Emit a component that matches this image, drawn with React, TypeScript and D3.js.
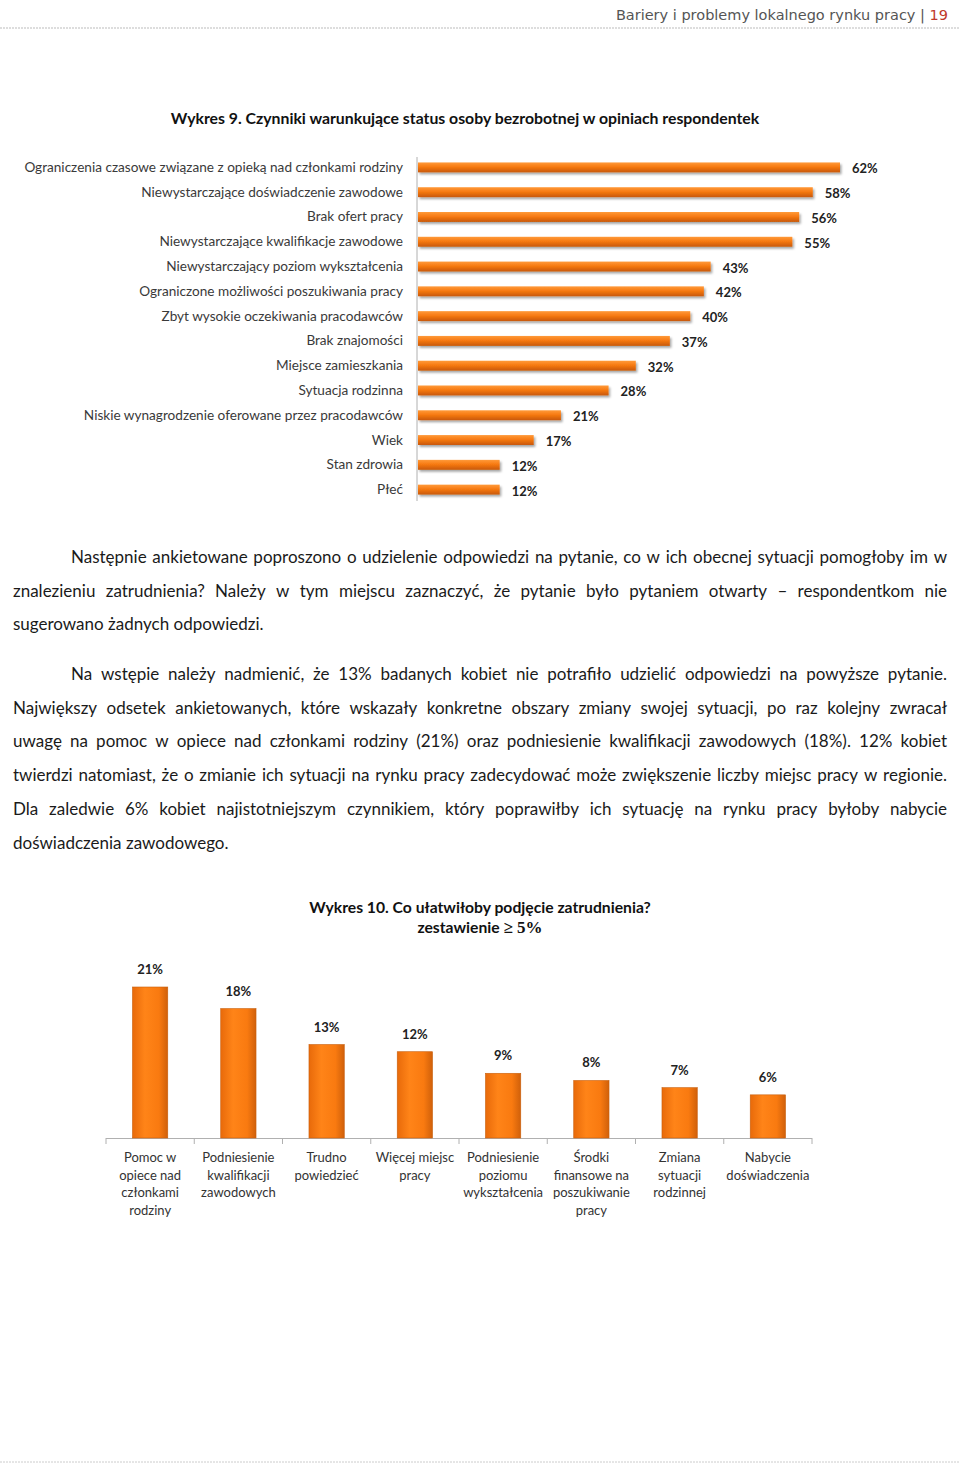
import React, { useEffect, useRef } from "react";
import * as d3 from "d3";

const W = 960;
const H = 1464;

const HEADER_TEXT = "Bariery i problemy lokalnego rynku pracy";
const HEADER_PAGE = "19";

const TITLE1 = "Wykres 9. Czynniki warunkujące status osoby bezrobotnej w opiniach respondentek";
const factors = [
  "Ograniczenia czasowe związane z opieką nad członkami rodziny",
  "Niewystarczające doświadczenie zawodowe",
  "Brak ofert pracy",
  "Niewystarczające kwalifikacje zawodowe",
  "Niewystarczający poziom wykształcenia",
  "Ograniczone możliwości poszukiwania pracy",
  "Zbyt wysokie oczekiwania pracodawców",
  "Brak znajomości",
  "Miejsce zamieszkania",
  "Sytuacja rodzinna",
  "Niskie wynagrodzenie oferowane przez pracodawców",
  "Wiek",
  "Stan zdrowia",
  "Płeć",
];
const factorValues = [62, 58, 56, 55, 43, 42, 40, 37, 32, 28, 21, 17, 12, 12];

const para1 = [
  "Następnie ankietowane poproszono o udzielenie odpowiedzi na pytanie, co w ich obecnej sytuacji pomogłoby im w",
  "znalezieniu zatrudnienia? Należy w tym miejscu zaznaczyć, że pytanie było pytaniem otwarty – respondentkom nie",
  "sugerowano żadnych odpowiedzi.",
];
const para2 = [
  "Na wstępie należy nadmienić, że 13% badanych kobiet nie potrafiło udzielić odpowiedzi na powyższe pytanie.",
  "Największy odsetek ankietowanych, które wskazały konkretne obszary zmiany swojej sytuacji, po raz kolejny zwracał",
  "uwagę na pomoc w opiece nad członkami rodziny (21%) oraz podniesienie kwalifikacji zawodowych (18%). 12% kobiet",
  "twierdzi natomiast, że o zmianie ich sytuacji na rynku pracy zadecydować może zwiększenie liczby miejsc pracy w regionie.",
  "Dla zaledwie 6% kobiet najistotniejszym czynnikiem, który poprawiłby ich sytuację na rynku pracy byłoby nabycie",
  "doświadczenia zawodowego.",
];

const TITLE2_A = "Wykres 10. Co ułatwiłoby podjęcie zatrudnienia?";
const TITLE2_B = "zestawienie ";
const TITLE2_C = "≥ 5%";
const helps = [
  ["Pomoc w", "opiece nad", "członkami", "rodziny"],
  ["Podniesienie", "kwalifikacji", "zawodowych"],
  ["Trudno", "powiedzieć"],
  ["Więcej miejsc", "pracy"],
  ["Podniesienie", "poziomu", "wykształcenia"],
  ["Środki", "finansowe na", "poszukiwanie", "pracy"],
  ["Zmiana", "sytuacji", "rodzinnej"],
  ["Nabycie", "doświadczenia"],
];
const helpValues = [21, 18, 13, 12, 9, 8, 7, 6];

const BODY_FONT = "Lato, 'Open Sans', sans-serif";

export default function App() {
  const ref = useRef<SVGSVGElement | null>(null);

  useEffect(() => {
    const svg = d3.select(ref.current);
    svg.selectAll("*").remove();

    const defs = svg.append("defs");
    const gH = defs.append("linearGradient").attr("id", "gradH").attr("x1", 0).attr("y1", 0).attr("x2", 0).attr("y2", 1);
    gH.append("stop").attr("offset", "0%").attr("stop-color", "#ff9a3a");
    gH.append("stop").attr("offset", "45%").attr("stop-color", "#f77a12");
    gH.append("stop").attr("offset", "100%").attr("stop-color", "#c85806");
    const gV = defs.append("linearGradient").attr("id", "gradV").attr("x1", 0).attr("y1", 0).attr("x2", 1).attr("y2", 0);
    gV.append("stop").attr("offset", "0%").attr("stop-color", "#e86a0a");
    gV.append("stop").attr("offset", "35%").attr("stop-color", "#ff8418");
    gV.append("stop").attr("offset", "75%").attr("stop-color", "#f97a10");
    gV.append("stop").attr("offset", "100%").attr("stop-color", "#d0600a");
    const f = defs.append("filter").attr("id", "shadow").attr("x", "-10%").attr("y", "-50%").attr("width", "130%").attr("height", "250%");
    f.append("feDropShadow").attr("dx", 1.5).attr("dy", 2).attr("stdDeviation", 1.2).attr("flood-color", "#000").attr("flood-opacity", 0.35);

    svg.append("rect").attr("width", W).attr("height", H).attr("fill", "#fff");

    // Header
    const hdr = svg.append("text").attr("x", 948).attr("y", 20).attr("text-anchor", "end")
      .attr("font-family", "'DejaVu Sans', sans-serif").attr("font-size", 14.5).attr("fill", "#555");
    hdr.append("tspan").text(HEADER_TEXT + "  |  ");
    hdr.append("tspan").attr("fill", "#c0392b").text(HEADER_PAGE);
    svg.append("line").attr("x1", 0).attr("x2", W).attr("y1", 28).attr("y2", 28)
      .attr("stroke", "#bbb").attr("stroke-dasharray", "2,1").attr("stroke-width", 1);
    svg.append("line").attr("x1", 0).attr("x2", W).attr("y1", 1462).attr("y2", 1462)
      .attr("stroke", "#ccc").attr("stroke-dasharray", "2,1").attr("stroke-width", 1);

    // Title 1
    svg.append("text").attr("x", 465).attr("y", 124).attr("text-anchor", "middle")
      .attr("font-family", BODY_FONT).attr("font-weight", "bold").attr("font-size", 15.8).attr("fill", "#111")
      .text(TITLE1);

    // Chart 1
    const x1 = d3.scaleLinear().domain([0, 62]).range([418, 840]);
    const y1 = d3.scaleBand<string>().domain(factors).range([155, 502]).paddingInner(0.6).paddingOuter(0.3);
    const g1 = svg.append("g");
    g1.append("line").attr("x1", 417).attr("x2", 417).attr("y1", 157).attr("y2", 501).attr("stroke", "#b0b0b0");
    g1.selectAll("rect.bar").data(factors).enter().append("rect").attr("class", "bar")
      .attr("x", x1(0)).attr("y", (d) => y1(d)!)
      .attr("width", (d, i) => x1(factorValues[i]) - x1(0)).attr("height", y1.bandwidth())
      .attr("fill", "url(#gradH)").attr("filter", "url(#shadow)");
    g1.selectAll("text.cat").data(factors).enter().append("text").attr("class", "cat")
      .attr("x", 403).attr("y", (d) => y1(d)! + y1.bandwidth() / 2 + 4.5).attr("text-anchor", "end")
      .attr("font-family", BODY_FONT).attr("font-size", 13.6).attr("fill", "#3a3a3a").text((d) => d);
    g1.selectAll("text.val").data(factors).enter().append("text").attr("class", "val")
      .attr("x", (d, i) => x1(factorValues[i]) + 12).attr("y", (d) => y1(d)! + y1.bandwidth() / 2 + 6)
      .attr("font-family", BODY_FONT).attr("font-weight", "bold").attr("font-size", 13).attr("fill", "#222")
      .text((d, i) => factorValues[i] + "%");

    // Paragraphs with justification
    const drawPara = (lines: string[], y0: number) => {
      lines.forEach((line, li) => {
        const y = y0 + li * 33.7;
        const left = li === 0 ? 71 : 13;
        const right = 947;
        const last = li === lines.length - 1;
        const words = line.split(" ");
        const g = svg.append("g");
        const nodes = words.map((w) =>
          g.append("text").attr("y", y).attr("font-family", BODY_FONT).attr("font-size", 17).attr("fill", "#1a1a1a").text(w)
        );
        const widths = nodes.map((n) => (n.node() as SVGTextElement).getComputedTextLength());
        const total = d3.sum(widths);
        const spaceNat = 17 * 0.26;
        let gap = spaceNat;
        if (!last && words.length > 1) gap = (right - left - total) / (words.length - 1);
        let cx = left;
        nodes.forEach((n, i) => {
          n.attr("x", cx);
          cx += widths[i] + gap;
        });
      });
    };
    drawPara(para1, 563);
    drawPara(para2, 680);

    // Title 2
    svg.append("text").attr("x", 480).attr("y", 913).attr("text-anchor", "middle")
      .attr("font-family", BODY_FONT).attr("font-weight", "bold").attr("font-size", 15.7).attr("fill", "#111")
      .text(TITLE2_A);
    const t2 = svg.append("text").attr("x", 480).attr("y", 933).attr("text-anchor", "middle")
      .attr("font-family", BODY_FONT).attr("font-weight", "bold").attr("font-size", 15.7).attr("fill", "#111");
    t2.append("tspan").text(TITLE2_B);
    t2.append("tspan").attr("font-family", "'Liberation Serif', serif").attr("font-size", 17).text(TITLE2_C);

    // Chart 2
    const idx = helps.map((_, i) => String(i));
    const x2 = d3.scaleBand<string>().domain(idx).range([106, 812]).paddingInner(0.6).paddingOuter(0.3);
    const y2 = d3.scaleLinear().domain([0, 21]).range([1138, 987]);
    const g2 = svg.append("g");
    g2.append("line").attr("x1", 106).attr("x2", 812).attr("y1", 1138.5).attr("y2", 1138.5).attr("stroke", "#b0b0b0");
    const step = x2.step();
    d3.range(9).forEach((i) => {
      const xx = 106 + i * step;
      g2.append("line").attr("x1", xx).attr("x2", xx).attr("y1", 1138).attr("y2", 1144).attr("stroke", "#b0b0b0");
    });
    g2.selectAll("rect.bar").data(idx).enter().append("rect").attr("class", "bar")
      .attr("x", (d) => x2(d)!).attr("y", (d, i) => y2(helpValues[i]))
      .attr("width", x2.bandwidth()).attr("height", (d, i) => y2(0) - y2(helpValues[i]))
      .attr("fill", "url(#gradV)").attr("stroke", "#c8600e").attr("stroke-width", 0.6);
    g2.selectAll("text.val").data(idx).enter().append("text").attr("class", "val")
      .attr("x", (d) => x2(d)! + x2.bandwidth() / 2).attr("y", (d, i) => y2(helpValues[i]) - 13)
      .attr("text-anchor", "middle")
      .attr("font-family", BODY_FONT).attr("font-weight", "bold").attr("font-size", 13).attr("fill", "#222")
      .text((d, i) => helpValues[i] + "%");
    helps.forEach((lines, i) => {
      const cx = x2(String(i))! + x2.bandwidth() / 2;
      lines.forEach((ln, j) => {
        g2.append("text").attr("x", cx).attr("y", 1162 + j * 17.6).attr("text-anchor", "middle")
          .attr("font-family", BODY_FONT).attr("font-size", 13).attr("fill", "#333").text(ln);
      });
    });
  }, []);

  return (
    <svg ref={ref} width={W} height={H} style={{ display: "block", position: "absolute", left: 0, top: 0 }} />
  );
}
